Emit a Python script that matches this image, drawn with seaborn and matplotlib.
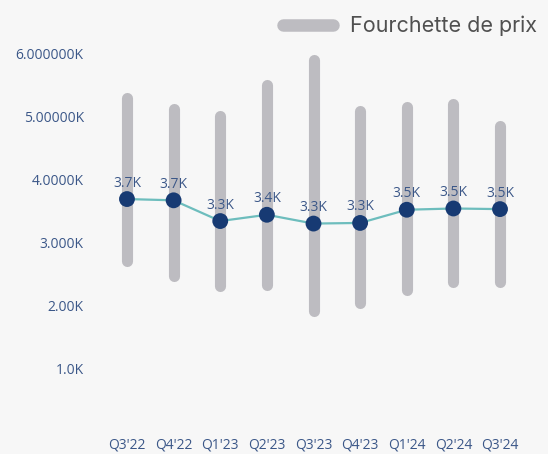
import matplotlib
matplotlib.use("Agg")
import matplotlib.pyplot as plt
from matplotlib.lines import Line2D
import seaborn as sns
import pandas as pd

quarters = ["Q3'22", "Q4'22", "Q1'23", "Q2'23", "Q3'23", "Q4'23", "Q1'24", "Q2'24", "Q3'24"]
avg_price = [3.69, 3.67, 3.34, 3.44, 3.30, 3.31, 3.52, 3.54, 3.53]
range_low = [2.70, 2.46, 2.30, 2.32, 1.91, 2.03, 2.24, 2.37, 2.37]
range_high = [5.29, 5.12, 5.01, 5.50, 5.90, 5.09, 5.15, 5.21, 4.86]
ytick_values = [1, 2, 3, 4, 5, 6]
ytick_labels = ["1.0K", "2.00K", "3.000K", "4.0000K", "5.00000K", "6.000000K"]
legend_label = "Fourchette de prix"

df = pd.DataFrame({"q": quarters, "x": range(len(quarters)), "avg": avg_price,
                   "low": range_low, "high": range_high})

BG = "#f7f7f7"
GRAY = "#bdbcc1"
TEAL = "#6dbdbd"
NAVY = "#173a73"
TXT = "#3b5788"

sns.set_theme(style="white")
plt.rcParams["font.family"] = ["Open Sans", "DejaVu Sans"]

fig = plt.figure(figsize=(5.48, 4.54), dpi=100, facecolor=BG)
ax = fig.add_axes([99 / 548, 1 - 431 / 454, (528 - 99) / 548, (431 - 35) / 454])
ax.set_facecolor(BG)

for _, r in df.iterrows():
    ax.plot([r["x"], r["x"]], [r["low"], r["high"]], color=GRAY, lw=8,
            solid_capstyle="round", zorder=1)

sns.lineplot(data=df, x="x", y="avg", color=TEAL, lw=1.6, ax=ax, zorder=2)
sns.scatterplot(data=df, x="x", y="avg", color=NAVY, s=130, edgecolor="none",
                ax=ax, zorder=3)

for _, r in df.iterrows():
    ax.annotate(f"{r['avg']:.1f}K", (r["x"], r["avg"]), xytext=(0, 11.5),
                textcoords="offset points", ha="center", va="center",
                fontsize=10, color=TXT, zorder=4)

ax.set_xlim(-0.6, len(quarters) - 0.4)
ax.set_ylim(0, 6.3)
ax.set_xticks(df["x"])
ax.set_xticklabels(quarters, fontsize=10, color=TXT)
ax.set_yticks(ytick_values)
ax.set_yticklabels(ytick_labels, fontsize=10, color=TXT)
ax.tick_params(axis="x", length=0, pad=5)
ax.tick_params(axis="y", length=0, pad=11)
ax.set_xlabel("")
ax.set_ylabel("")
for s in ax.spines.values():
    s.set_visible(False)

handle = Line2D([0], [0], color=GRAY, lw=9, solid_capstyle="round")
fig.legend([handle], [legend_label], loc="upper right", bbox_to_anchor=(1.015, 1.008),
           frameon=False, handlelength=2.3, handletextpad=0.8,
           labelcolor="#505050", prop={"family": ["Inter", "DejaVu Sans"], "size": 15.5})

fig.savefig("out.png", dpi=100, facecolor=BG)
